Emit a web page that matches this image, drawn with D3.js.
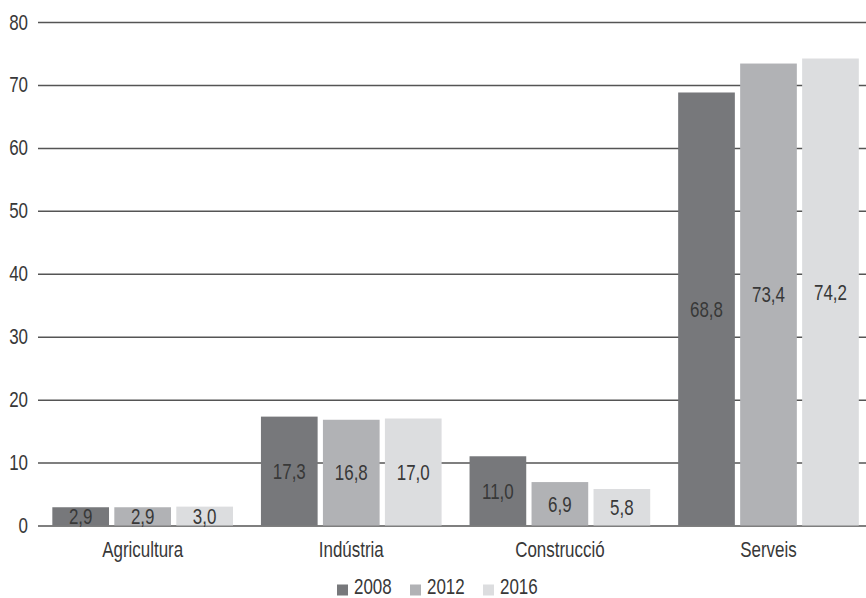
<!DOCTYPE html>
<html>
<head>
<meta charset="utf-8">
<script src="https://cdn.jsdelivr.net/npm/d3@7"></script>
<style>
  html, body { margin: 0; padding: 0; background: #fff; }
  svg text { font-family: "Liberation Sans", Arial, Roboto, sans-serif; fill: #383838; }
</style>
</head>
<body>
<svg id="chart" width="866" height="598"></svg>
<script>
const categories = ["Agricultura", "Indústria", "Construcció", "Serveis"];
const years = ["2008", "2012", "2016"];
const values2008 = [2.9, 17.3, 11.0, 68.8];
const values2012 = [2.9, 16.8, 6.9, 73.4];
const values2016 = [3.0, 17.0, 5.8, 74.2];
const yTicks = [0, 10, 20, 30, 40, 50, 60, 70, 80];
const colors = ["#77787b", "#b1b2b5", "#dcdddf"];

const series = [values2008, values2012, values2016];
const data = categories.map((c, i) => ({
  category: c,
  values: years.map((yr, j) => ({ year: yr, value: series[j][i], color: colors[j] }))
}));

const locale = d3.formatLocale({ decimal: ",", thousands: ".", grouping: [3], currency: ["", "€"] });
const fmt = locale.format(".1f");

const FS = 22;   // font size
const SX = 0.77; // horizontal condensing of the typeface
function condense(sel) {
  sel.each(function () {
    const t = d3.select(this);
    const tx = +t.attr("x") || 0, ty = +t.attr("y") || 0;
    t.attr("x", 0).attr("y", 0).attr("transform", `translate(${tx},${ty}) scale(${SX},1)`);
  });
}

const svg = d3.select("#chart");
const plotLeft = 38, plotRight = 866, plotTop = 22, plotBottom = 525.5;

const y = d3.scaleLinear().domain([0, 80]).range([plotBottom, plotTop]);
const x0 = d3.scaleBand().domain(categories).range([38.35, 872.8]).paddingInner(0.134).paddingOuter(0.067);
const x1 = d3.scaleBand().domain(years).range([0, x0.bandwidth()]).paddingInner(0.0855).paddingOuter(0);

// y axis with gridlines
const yAxis = svg.append("g")
  .attr("transform", `translate(${plotLeft},0)`)
  .call(d3.axisLeft(y).tickValues(yTicks).tickSize(-(plotRight - plotLeft)).tickPadding(10).tickFormat(d3.format("d")));
yAxis.select(".domain").remove();
yAxis.selectAll(".tick line").attr("stroke", "#555").attr("stroke-width", 1.5);
yAxis.selectAll(".tick text").attr("font-size", FS).style("fill", "#383838").call(condense);

// bars
const groups = svg.append("g").selectAll("g")
  .data(data).join("g")
  .attr("transform", d => `translate(${x0(d.category)},0)`);

groups.selectAll("rect")
  .data(d => d.values).join("rect")
  .attr("x", d => x1(d.year))
  .attr("y", d => y(d.value))
  .attr("width", x1.bandwidth())
  .attr("height", d => y(0) - y(d.value))
  .attr("fill", d => d.color);

groups.selectAll("text.val")
  .data(d => d.values).join("text")
  .attr("class", "val")
  .attr("x", d => x1(d.year) + x1.bandwidth() / 2)
  .attr("y", d => (y(0) + y(d.value)) / 2)
  .attr("text-anchor", "middle")
  .attr("dominant-baseline", "central")
  .attr("font-size", FS)
  .text(d => fmt(d.value))
  .call(condense);

// x axis labels
const xAxis = svg.append("g")
  .attr("transform", `translate(0,${plotBottom})`)
  .call(d3.axisBottom(x0).tickSize(0).tickPadding(16));
xAxis.select(".domain").remove();
xAxis.selectAll(".tick text").attr("font-size", FS).style("fill", "#383838").call(condense);

// legend
const legendX = [337, 410, 483];
const legend = svg.append("g").selectAll("g")
  .data(years).join("g")
  .attr("transform", (d, i) => `translate(${legendX[i]},584.5)`);
legend.append("rect").attr("width", 11).attr("height", 11).attr("fill", (d, i) => colors[i]);
legend.append("text").attr("x", 17).attr("y", 9).attr("font-size", FS).text(d => d).call(condense);
</script>
</body>
</html>
